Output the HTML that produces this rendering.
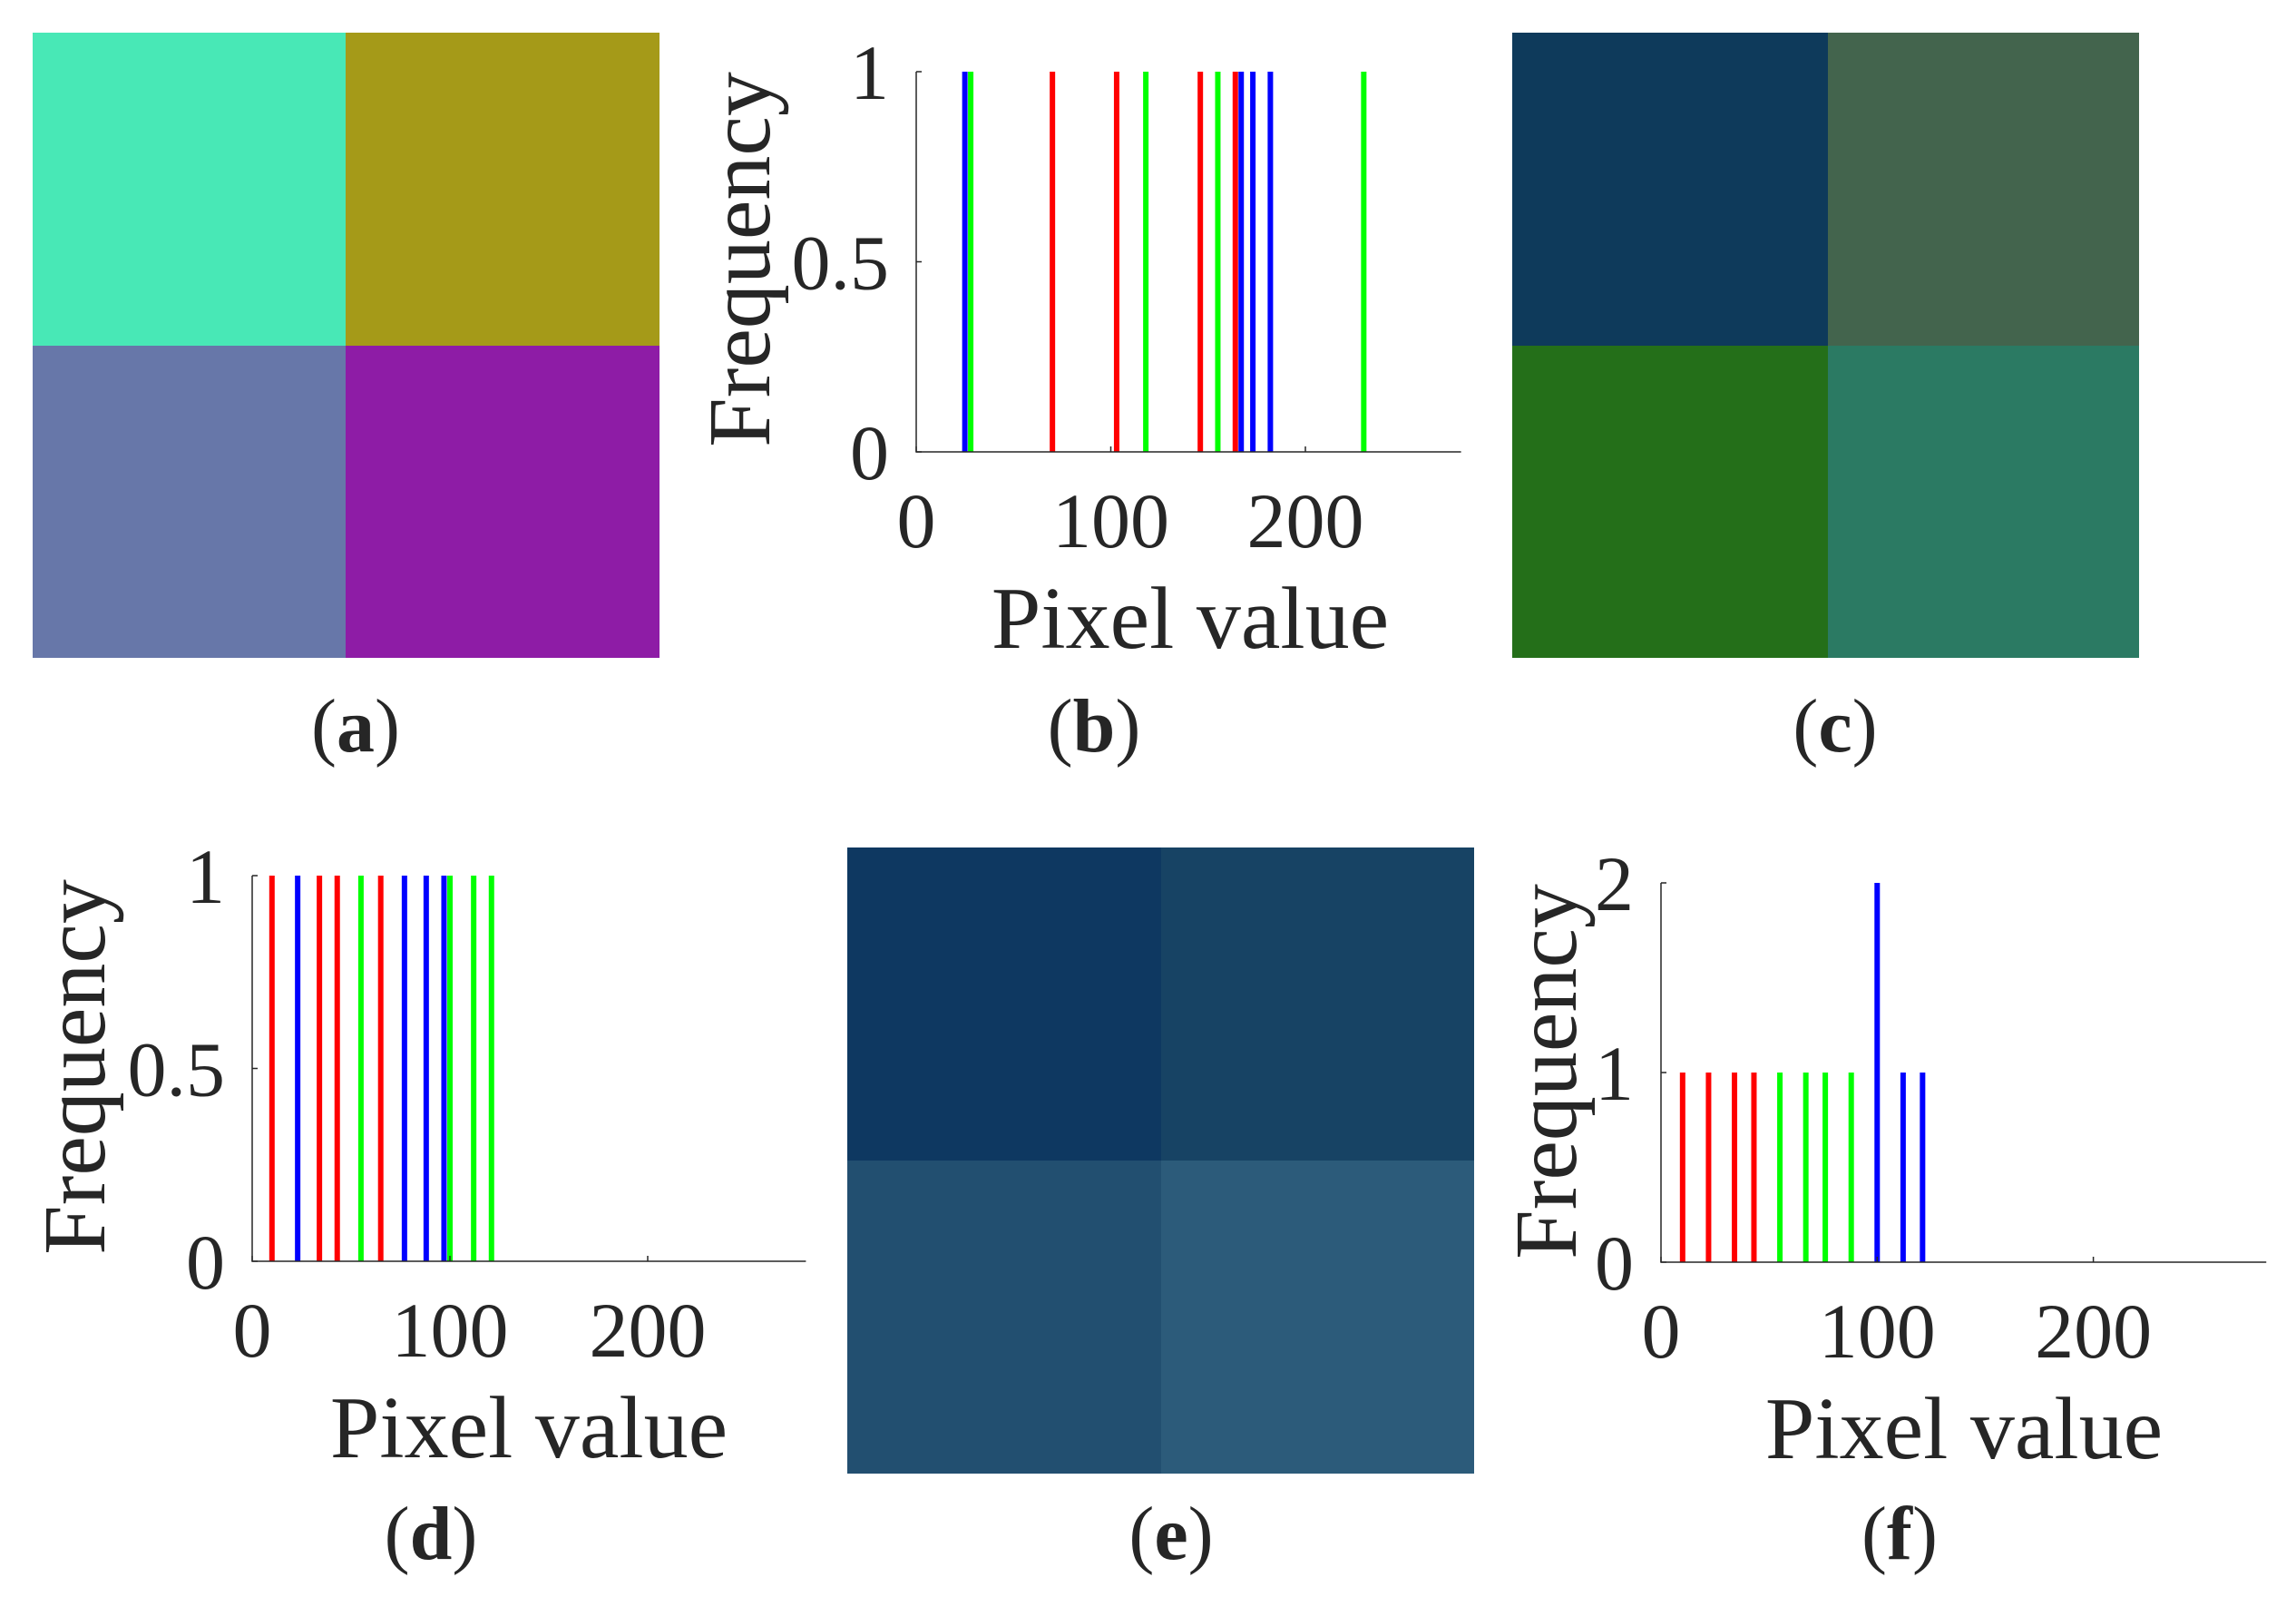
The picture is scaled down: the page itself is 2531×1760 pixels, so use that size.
<!DOCTYPE html>
<html><head><meta charset="utf-8"><style>
html,body{margin:0;padding:0;background:#fff;}
svg{display:block;}
text{font-family:"Liberation Serif",serif;fill:#262626;}
</style></head>
<body>
<svg id="fig" width="2531" height="1760" viewBox="0 0 2531 1760">
  <g>
    <rect x="36" y="36" width="345" height="345" fill="#48e8b6"/>
    <rect x="381" y="36" width="346" height="345" fill="#a59a18"/>
    <rect x="36" y="381" width="345" height="344" fill="#6777a9"/>
    <rect x="381" y="381" width="346" height="344" fill="#8e1ca6"/>
  </g>
  <g>
    <rect x="1667" y="36" width="348" height="345" fill="#0e3a5b"/>
    <rect x="2015" y="36" width="343" height="345" fill="#43644d"/>
    <rect x="1667" y="381" width="348" height="344" fill="#246f19"/>
    <rect x="2015" y="381" width="343" height="344" fill="#2b7a63"/>
  </g>
  <g>
    <rect x="934" y="934" width="346" height="345" fill="#0e3861"/>
    <rect x="1280" y="934" width="345" height="345" fill="#174364"/>
    <rect x="934" y="1279" width="346" height="345" fill="#224f70"/>
    <rect x="1280" y="1279" width="345" height="345" fill="#2c5b7a"/>
  </g>
  <text x="392" y="828" font-size="84" text-anchor="middle">(<tspan font-weight="bold">a</tspan>)</text>
  <text x="1206" y="828" font-size="84" text-anchor="middle">(<tspan font-weight="bold">b</tspan>)</text>
  <text x="2023" y="828" font-size="84" text-anchor="middle">(<tspan font-weight="bold">c</tspan>)</text>
  <text x="475" y="1718" font-size="84" text-anchor="middle">(<tspan font-weight="bold">d</tspan>)</text>
  <text x="1291" y="1718" font-size="84" text-anchor="middle">(<tspan font-weight="bold">e</tspan>)</text>
  <text x="2094" y="1718" font-size="84" text-anchor="middle">(<tspan font-weight="bold">f</tspan>)</text>
</svg>
<script>
// Histogram (b)
const bRed = [70, 103, 146, 164];
const bGreen = [28, 118, 155, 230];
const bBlue = [25, 167, 173, 182];
const bFreq = 1;
const bYTicks = [0, 0.5, 1];
const bYTickLabels = ['0', '0.5', '1'];
// Histogram (d)
const dRed = [10, 34, 43, 65];
const dGreen = [55, 100, 112, 121];
const dBlue = [23, 77, 88, 97];
const dFreq = 1;
const dYTicks = [0, 0.5, 1];
const dYTickLabels = ['0', '0.5', '1'];
// Histogram (f)
const fRed = [10, 22, 34, 43];
const fGreen = [55, 67, 76, 88];
const fBlue = [100, 112, 121];
const fBlueFreq = [2, 1, 1];
const fYTicks = [0, 1, 2];
const fYTickLabels = ['0', '1', '2'];
const xTicks = [0, 100, 200];
const xTickLabels = ['0', '100', '200'];

const NS = 'http://www.w3.org/2000/svg';
const svg = document.getElementById('fig');
function mk(tag, attrs, parent) {
  const e = document.createElementNS(NS, tag);
  for (const k in attrs) e.setAttribute(k, attrs[k]);
  parent.appendChild(e);
  return e;
}
function chart(id, ox, oy, xPer, yMax, yTop, yTicks, yLabels, series, xl) {
  const g = mk('g', {}, svg);
  
  
  const xs = v => ox + v * xPer;
  const ys = v => oy - (oy - yTop) * v / yMax;
  const right = xs(280);
  series.forEach(s => {
    s.vals.forEach((v, i) => {
      const f = s.freq[i];
      const ln = mk('line', {x1: xs(v), x2: xs(v), y1: oy, y2: ys(f), stroke: s.color, 'stroke-width': 6}, g);
      
      
    });
  });
  const ax = mk('path', {d: `M${ox},${yTop}V${oy}H${right}`, fill: 'none', stroke: '#262626', 'stroke-width': 1.5}, g);
  
  
  yTicks.forEach((t, i) => {
    const y = ys(t);
    mk('line', {x1: ox, x2: ox + 6, y1: y, y2: y, stroke: '#262626', 'stroke-width': 1.5}, g);
    const tx = mk('text', {x: ox - 30, y: y + 30, 'font-size': 86, 'text-anchor': 'end'}, g);
    tx.textContent = yLabels[i];
    
    
  });
  xTicks.forEach((t, i) => {
    const x = xs(t);
    mk('line', {x1: x, x2: x, y1: oy, y2: oy - 6, stroke: '#262626', 'stroke-width': 1.5}, g);
    const tx = mk('text', {x: x, y: oy + 105, 'font-size': 86, 'text-anchor': 'middle'}, g);
    tx.textContent = xTickLabels[i];
    
    
  });
  const xt = mk('text', {x: xl.x, y: oy + 216, 'font-size': 98, 'text-anchor': 'middle'}, g);
  xt.textContent = 'Pixel value';
  
  
  const yt = mk('text', {x: 0, y: 0, 'font-size': 98, 'text-anchor': 'middle', transform: `translate(${xl.yx},${xl.yy}) rotate(-90)`}, g);
  yt.textContent = 'Frequency';
  
  
}
const ones = a => a.map(() => 1);
chart('b', 1010, 498, 2.145, 1, 79, bYTicks, bYTickLabels, [
  {name: 'red', color: '#ff0000', vals: bRed, freq: ones(bRed).map(v => v * bFreq)},
  {name: 'green', color: '#00ff00', vals: bGreen, freq: ones(bGreen).map(v => v * bFreq)},
  {name: 'blue', color: '#0000ff', vals: bBlue, freq: ones(bBlue).map(v => v * bFreq)}
], {x: 1312, yx: 848, yy: 286});
chart('d', 278, 1390, 2.18, 1, 965, dYTicks, dYTickLabels, [
  {name: 'red', color: '#ff0000', vals: dRed, freq: ones(dRed).map(v => v * dFreq)},
  {name: 'green', color: '#00ff00', vals: dGreen, freq: ones(dGreen).map(v => v * dFreq)},
  {name: 'blue', color: '#0000ff', vals: dBlue, freq: ones(dBlue).map(v => v * dFreq)}
], {x: 583, yx: 115, yy: 1176});
chart('f', 1831, 1391, 2.383, 2, 973, fYTicks, fYTickLabels, [
  {name: 'red', color: '#ff0000', vals: fRed, freq: ones(fRed)},
  {name: 'green', color: '#00ff00', vals: fGreen, freq: ones(fGreen)},
  {name: 'blue', color: '#0000ff', vals: fBlue, freq: fBlueFreq}
], {x: 2165, yx: 1737, yy: 1181});
</script>
</body></html>
